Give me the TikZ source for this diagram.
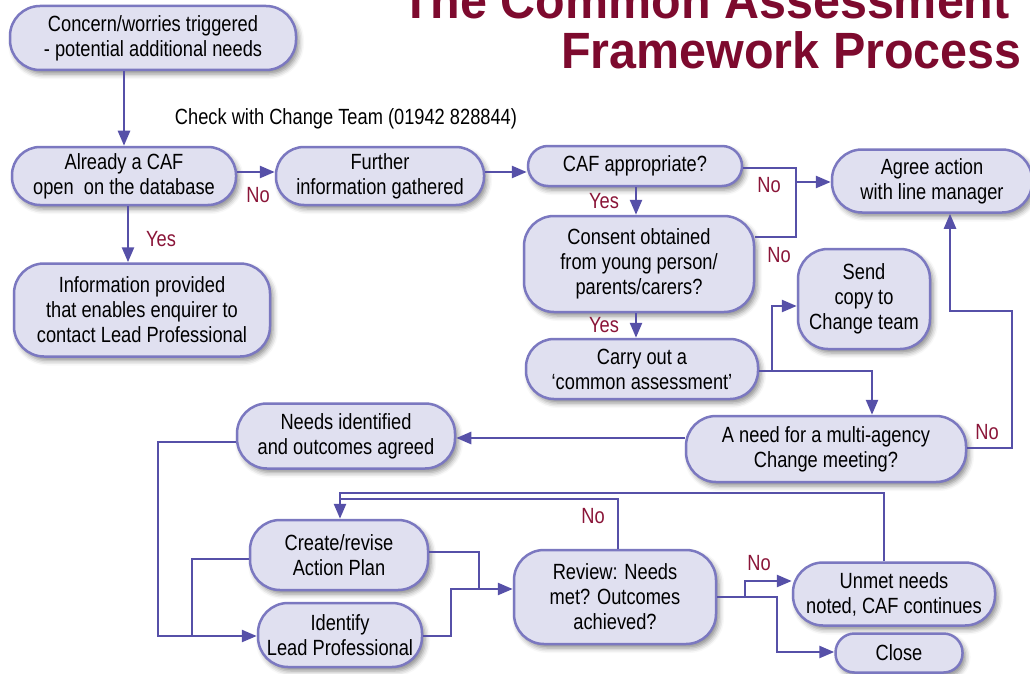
\documentclass[tikz,border=0pt]{standalone}
\usepackage{fontspec}
\setmainfont{Liberation Sans}[FakeStretch=0.83]
\newfontfamily\titlefont{Liberation Sans}[FakeStretch=0.95]
\usetikzlibrary{arrows.meta,shadows.blur,calc}
\definecolor{boxfill}{HTML}{E0E0F0}
\definecolor{boxdraw}{HTML}{7B78C0}
\definecolor{linecol}{HTML}{5650A8}
\definecolor{labcol}{HTML}{8A1538}
\definecolor{titlecol}{HTML}{7D0A2E}
\begin{document}
\begin{tikzpicture}[x=1pt,y=-1pt,
  box/.style={draw=boxdraw, line width=2.5pt, fill=boxfill, align=center, inner sep=0pt,
    rounded corners=#1, font=\fontsize{22}{25}\selectfont,
    blur shadow={shadow xshift=3pt, shadow yshift=-4pt, shadow blur radius=5pt, shadow opacity=45}},
  box/.default=30pt,
  ln/.style={draw=linecol, line width=2.5pt},
  arr/.style={ln, -{Triangle[length=15pt,width=12pt]}},
  lab/.style={text=labcol, font=\fontsize{22}{25}\selectfont, inner sep=0pt},
  plain/.style={font=\fontsize{22}{25}\selectfont, inner sep=0pt}]
\useasboundingbox (0,0) rectangle (1030,674);
% title
\node[anchor=base east, text=titlecol, font=\titlefont\bfseries\fontsize{51}{51}\selectfont, inner sep=0pt] (t1) at (1010,19) {The Common Assessment};
\node[anchor=base east, text=titlecol, font=\titlefont\bfseries\fontsize{51}{51}\selectfont, inner sep=0pt] (t2) at (1022,69) {Framework Process};
% nodes
\node[box, minimum width=286pt, minimum height=64pt] (concern) at (153,38) {Concern/worries triggered\\- potential additional needs};
\node[box=28pt, minimum width=224pt, minimum height=58pt] (already) at (124,176) {Already a CAF\\open~~on the database};
\node[box=28pt, minimum width=208pt, minimum height=58pt] (further) at (380,176) {Further\\information gathered};
\node[box=20pt, minimum width=214pt, minimum height=40pt] (cafapp) at (635,166) {CAF appropriate?};
\node[box, minimum width=200pt, minimum height=63pt] (agree) at (932,181) {Agree action\\with line manager};
\node[box, minimum width=256pt, minimum height=93pt] (info) at (142,310) {Information provided\\that enables enquirer to\\contact Lead Professional};
\node[box, minimum width=230pt, minimum height=96pt] (consent) at (639,264) {Consent obtained\\from young person/\\parents/carers?};
\node[box, minimum width=132pt, minimum height=100pt] (send) at (864,299) {Send\\copy to\\Change team};
\node[box=28pt, minimum width=232pt, minimum height=60pt] (carry) at (642,369) {Carry out a\\‘common assessment’};
\node[box, minimum width=280pt, minimum height=66pt] (multi) at (826,449) {A need for a multi-agency\\Change meeting?};
\node[box, minimum width=218pt, minimum height=65pt] (needs) at (346,436) {Needs identified\\and outcomes agreed};
\node[box, minimum width=178pt, minimum height=70pt] (create) at (339,555) {Create/revise\\Action Plan};
\node[box, minimum width=164pt, minimum height=64pt] (identify) at (340,635) {Identify\\Lead Professional};
\node[box, minimum width=202pt, minimum height=94pt] (review) at (615,597) {Review: Needs\\met? Outcomes\\achieved?};
\node[box, minimum width=202pt, minimum height=63pt] (unmet) at (894,594) {Unmet needs\\noted, CAF continues};
\node[box=19pt, minimum width=127pt, minimum height=39pt] (close) at (899,653) {Close};
% free text
\node[plain] (check) at (346,119) {Check with Change Team (01942 828844)};
% connectors
\draw[arr] (concern.south -| already.north) -- (already.north);
\draw[arr] (already.east |- 0,172) -- (further.west |- 0,172);
\draw[arr] (already.south -| 128,0) -- (info.north -| 128,0);
\draw[arr] (further.east |- 0,172) -- (cafapp.west |- 0,172);
\coordinate (j1) at (796,182);
\draw[arr] (cafapp.east |- 0,168) -| (j1) -- (agree.west |- j1);
\draw[ln] (consent.east |- 0,237) -| (j1);
\draw[arr] (cafapp.south -| 636,0) -- (consent.north -| 636,0);
\draw[arr] (consent.south -| 636,0) -- (carry.north -| 636,0);
\coordinate (j2) at (772,371);
\draw[arr] (carry.east |- j2) -- (j2) |- (send.west |- 0,306);
\draw[arr] (j2) -| (multi.north -| 872,0);
\draw[arr] (multi.east |- 0,448) -| (1012,311) -| (agree.south -| 950,0);
\draw[arr] (multi.west |- 0,438) -- (needs.east |- 0,438);
\coordinate (j3) at (158,636);
\draw[arr] (needs.west |- 0,442) -| (j3) -- (identify.west |- j3);
\draw[ln] (create.west |- 0,559) -| (192,636);
\coordinate (j4) at (479,589);
\draw[ln] (create.east |- 0,552) -| (j4);
\draw[arr] (identify.east |- 0,636) -| (451,589) -- (review.west |- j4);
\coordinate (j6) at (340,499);
\draw[arr] (review.north -| 618,0) |- (j6) -- (create.north -| j6);
\draw[ln] (unmet.north -| 884,0) |- (340,493) -- (j6);
\coordinate (j5) at (745,597);
\draw[arr] (review.east |- j5) -- (j5) |- (unmet.west |- 0,581);
\draw[arr] (j5) -| (777,652) -- (close.west |- 0,652);
% labels
\node[lab] (l1) at (258,195) {No};
\node[lab] (l2) at (161,239) {Yes};
\node[lab] (l3) at (769,185) {No};
\node[lab] (l4) at (779,255) {No};
\node[lab] (l5) at (604,201) {Yes};
\node[lab] (l6) at (604,325) {Yes};
\node[lab] (l7) at (987,432) {No};
\node[lab] (l8) at (593,516) {No};
\node[lab] (l9) at (759,563) {No};
\end{tikzpicture}
\end{document}
